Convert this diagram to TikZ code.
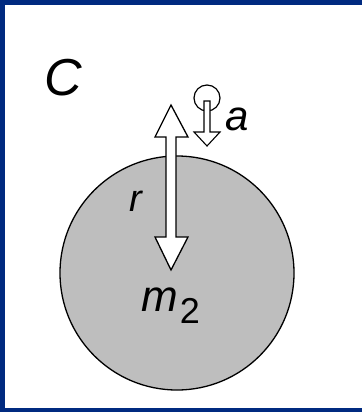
\documentclass[tikz,border=0pt]{standalone}
\usepackage{fontspec}
\setmainfont{Liberation Sans}
\definecolor{frameblue}{HTML}{002A80}
\definecolor{ballgray}{HTML}{BEBEBE}
\tikzset{
  lbl/.style={inner sep=0pt, font=\itshape},
  hollow/.style={draw=black, line width=1.3pt, fill=white, line join=miter},
}
\begin{document}
\begin{tikzpicture}[x=1pt,y=-1pt]
\useasboundingbox (0,0) rectangle (362,412);
\fill[frameblue] (0,0) rectangle (362,412);
\fill[white] (5,5) rectangle (362,408);
% planet
\draw[fill=ballgray, line width=1.3pt] (177,273) circle (117);
% radius double arrow
\path[hollow] (171,105) -- (188,137) -- (176,137) -- (176,237) -- (188,237)
  -- (171,270) -- (155,237) -- (166,237) -- (166,137) -- (155,137) -- cycle;
% small mass
\draw[line width=1.2pt, fill=white] (207,98) circle (13);
\path[hollow, line width=1.1pt] (204,101) -- (210,101) -- (210,132) -- (220,132)
  -- (207,146) -- (194,132) -- (204,132) -- cycle;
% labels
\node[lbl, font=\itshape\fontsize{52}{52}\selectfont] (C) at (63,78) {C};
\node[lbl, font=\itshape\fontsize{42}{42}\selectfont] (a) at (237,119) {a};
\node[lbl, font=\itshape\fontsize{38}{38}\selectfont] (r) at (136,201) {r};
\node[lbl, font=\itshape\fontsize{44}{44}\selectfont] (m) at (160,300) {m};
\node[lbl, font=\fontsize{36}{36}\selectfont] (two) at (190,311) {2};
\end{tikzpicture}
\end{document}
